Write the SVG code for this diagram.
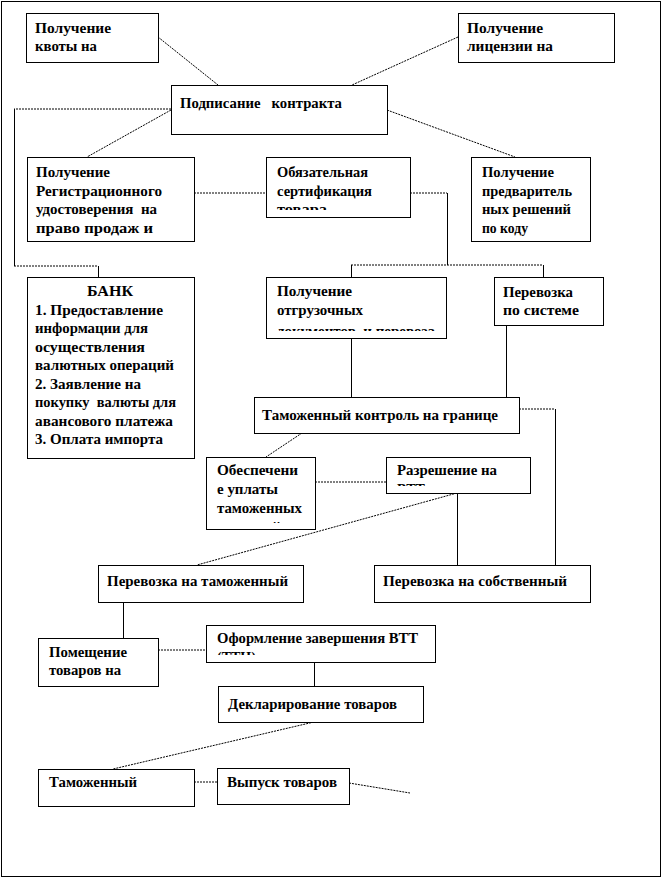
<svg xmlns="http://www.w3.org/2000/svg" width="663" height="879" viewBox="0 0 663 879">
<style>
  .box { fill: #fff; stroke: #000; stroke-width: 1; }
  text { font-family: "Liberation Serif", "Times New Roman", serif; font-weight: bold; font-size: 14px; fill: #000; }
  .c { fill: none; stroke: #000; stroke-width: 1; }
  .d { fill: none; stroke: #000; stroke-width: 1; stroke-dasharray: 2 1; }
</style>
<defs>
  <clipPath id="clipCert"><rect x="266" y="157" width="144" height="53"/></clipPath>
  <clipPath id="clipOtgr"><rect x="266" y="277" width="180" height="54"/></clipPath>
  <clipPath id="clipObesp"><rect x="206" y="457" width="109" height="66"/></clipPath>
  <clipPath id="clipRazr"><rect x="386" y="457" width="144" height="29"/></clipPath>
  <clipPath id="clipOform"><rect x="206" y="625" width="229" height="30"/></clipPath>
</defs>
<rect x="0" y="0" width="663" height="879" fill="#fff"/>
<rect x="1.5" y="1.5" width="659" height="875" fill="none" stroke="#000" stroke-width="1"/>

<g id="connectors">
  <line class="d" x1="158" y1="37" x2="218" y2="85"/>
  <line class="d" x1="458" y1="37" x2="352" y2="85"/>
  <line class="d" x1="387" y1="110" x2="515" y2="157"/>
  <line class="d" x1="171" y1="110" x2="87" y2="157"/>
  <line class="d" x1="171" y1="109" x2="14" y2="109"/>
  <line class="c" x1="14.5" y1="109" x2="14.5" y2="266"/>
  <line class="d" x1="14" y1="266" x2="98" y2="266"/>
  <line class="c" x1="98.5" y1="266" x2="98.5" y2="277"/>
  <line class="d" x1="194" y1="193" x2="266" y2="193"/>
  <line class="d" x1="410" y1="193" x2="447" y2="193"/>
  <line class="c" x1="447.5" y1="193" x2="447.5" y2="265"/>
  <line class="d" x1="351" y1="265" x2="543" y2="265"/>
  <line class="c" x1="351.5" y1="265" x2="351.5" y2="277"/>
  <line class="c" x1="543.5" y1="265" x2="543.5" y2="277"/>
  <line class="c" x1="351.5" y1="338" x2="351.5" y2="397"/>
  <line class="c" x1="506.5" y1="325" x2="506.5" y2="397"/>
  <line class="d" x1="519" y1="409" x2="555" y2="409"/>
  <line class="c" x1="555.5" y1="409" x2="555.5" y2="565"/>
  <line class="d" x1="302" y1="433" x2="266" y2="457"/>
  <line class="d" x1="315" y1="482" x2="386" y2="482"/>
  <line class="d" x1="457" y1="493" x2="197" y2="565"/>
  <line class="c" x1="457.5" y1="493" x2="457.5" y2="565"/>
  <line class="c" x1="123.5" y1="602" x2="123.5" y2="638"/>
  <line class="d" x1="158" y1="650" x2="206" y2="650"/>
  <line class="c" x1="314.5" y1="662" x2="314.5" y2="686"/>
  <line class="d" x1="314" y1="722" x2="113" y2="769"/>
  <line class="d" x1="194" y1="782" x2="217" y2="782"/>
  <line class="d" x1="349" y1="783" x2="410" y2="793"/>
</g>

<g id="kvota">
  <rect class="box" x="26.5" y="13.5" width="132" height="49"/>
  <text x="35" y="33" textLength="76" lengthAdjust="spacingAndGlyphs">Получение</text>
  <text x="35" y="51" textLength="62" lengthAdjust="spacingAndGlyphs">квоты на</text>
</g>
<g id="licenzia">
  <rect class="box" x="458.5" y="13.5" width="156" height="49"/>
  <text x="467" y="33" textLength="76" lengthAdjust="spacingAndGlyphs">Получение</text>
  <text x="467" y="51" textLength="86" lengthAdjust="spacingAndGlyphs">лицензии на</text>
</g>
<g id="kontrakt">
  <rect class="box" x="171.5" y="85.5" width="216" height="49"/>
  <text x="180" y="108" textLength="162" lengthAdjust="spacingAndGlyphs" xml:space="preserve">Подписание   контракта</text>
</g>
<g id="registr">
  <rect class="box" x="27.5" y="157.5" width="167" height="84"/>
  <text x="36" y="177" textLength="74" lengthAdjust="spacingAndGlyphs">Получение</text>
  <text x="36" y="195.5" textLength="126" lengthAdjust="spacingAndGlyphs">Регистрационного</text>
  <text x="36" y="214" textLength="121" lengthAdjust="spacingAndGlyphs" xml:space="preserve">удостоверения  на</text>
  <text x="36" y="232.5" textLength="117" lengthAdjust="spacingAndGlyphs">право продаж и</text>
</g>
<g id="sertif">
  <rect class="box" x="266.5" y="157.5" width="144" height="60"/>
  <g clip-path="url(#clipCert)">
    <text x="277" y="177" textLength="91" lengthAdjust="spacingAndGlyphs">Обязательная</text>
    <text x="277" y="195.5" textLength="95" lengthAdjust="spacingAndGlyphs">сертификация</text>
    <text x="277" y="214" textLength="50" lengthAdjust="spacingAndGlyphs">товара</text>
  </g>
</g>
<g id="predvar">
  <rect class="box" x="471.5" y="157.5" width="119" height="84"/>
  <text x="482" y="177" textLength="72" lengthAdjust="spacingAndGlyphs">Получение</text>
  <text x="482" y="195.5" textLength="90" lengthAdjust="spacingAndGlyphs">предваритель</text>
  <text x="482" y="214" textLength="89" lengthAdjust="spacingAndGlyphs">ных решений</text>
  <text x="482" y="232.5" textLength="46" lengthAdjust="spacingAndGlyphs">по коду</text>
</g>
<g id="bank">
  <rect class="box" x="27.5" y="277.5" width="167" height="181"/>
  <text x="87" y="296" textLength="46" lengthAdjust="spacingAndGlyphs">БАНК</text>
  <text x="35" y="314.5" textLength="128" lengthAdjust="spacingAndGlyphs">1. Предоставление</text>
  <text x="35" y="333" textLength="113" lengthAdjust="spacingAndGlyphs">информации для</text>
  <text x="35" y="351.5" textLength="110" lengthAdjust="spacingAndGlyphs">осуществления</text>
  <text x="35" y="370" textLength="139" lengthAdjust="spacingAndGlyphs">валютных операций</text>
  <text x="35" y="388.5" textLength="106" lengthAdjust="spacingAndGlyphs">2. Заявление на</text>
  <text x="35" y="407" textLength="141" lengthAdjust="spacingAndGlyphs" xml:space="preserve">покупку  валюты для</text>
  <text x="35" y="425.5" textLength="138" lengthAdjust="spacingAndGlyphs">авансового платежа</text>
  <text x="35" y="444" textLength="128" lengthAdjust="spacingAndGlyphs">3. Оплата импорта</text>
</g>
<g id="otgruz">
  <rect class="box" x="266.5" y="277.5" width="180" height="61"/>
  <g clip-path="url(#clipOtgr)">
    <text x="277" y="296" textLength="75" lengthAdjust="spacingAndGlyphs">Получение</text>
    <text x="277" y="314.5" textLength="86" lengthAdjust="spacingAndGlyphs">отгрузочных</text>
    <text x="277" y="336" textLength="158" lengthAdjust="spacingAndGlyphs" xml:space="preserve">документов  и перевоза</text>
  </g>
</g>
<g id="perevozka_sist">
  <rect class="box" x="494.5" y="277.5" width="109" height="48"/>
  <text x="503" y="297" textLength="70" lengthAdjust="spacingAndGlyphs">Перевозка</text>
  <text x="503" y="315" textLength="76" lengthAdjust="spacingAndGlyphs">по системе</text>
</g>
<g id="granica">
  <rect class="box" x="254.5" y="397.5" width="265" height="36"/>
  <text x="262" y="420" textLength="236" lengthAdjust="spacingAndGlyphs">Таможенный контроль на границе</text>
</g>
<g id="obespech">
  <rect class="box" x="206.5" y="457.5" width="109" height="72"/>
  <g clip-path="url(#clipObesp)">
    <text x="217" y="475" textLength="81" lengthAdjust="spacingAndGlyphs">Обеспечени</text>
    <text x="217" y="494" textLength="61" lengthAdjust="spacingAndGlyphs">е уплаты</text>
    <text x="217" y="513" textLength="85" lengthAdjust="spacingAndGlyphs">таможенных</text>
    <text x="217" y="532" textLength="64" lengthAdjust="spacingAndGlyphs">платежей</text>
  </g>
</g>
<g id="razresh">
  <rect class="box" x="386.5" y="457.5" width="144" height="36"/>
  <g clip-path="url(#clipRazr)">
    <text x="397" y="475" textLength="100" lengthAdjust="spacingAndGlyphs">Разрешение на</text>
    <text x="397" y="493.5">ВТТ</text>
  </g>
</g>
<g id="per_tam">
  <rect class="box" x="98.5" y="565.5" width="205" height="37"/>
  <text x="107" y="586" textLength="181" lengthAdjust="spacingAndGlyphs">Перевозка на таможенный</text>
</g>
<g id="per_sob">
  <rect class="box" x="374.5" y="565.5" width="216" height="37"/>
  <text x="383" y="586" textLength="184" lengthAdjust="spacingAndGlyphs">Перевозка на собственный</text>
</g>
<g id="pomesh">
  <rect class="box" x="38.5" y="638.5" width="120" height="48"/>
  <text x="49" y="657" textLength="78" lengthAdjust="spacingAndGlyphs">Помещение</text>
  <text x="49" y="675" textLength="72" lengthAdjust="spacingAndGlyphs">товаров на</text>
</g>
<g id="oform">
  <rect class="box" x="206.5" y="625.5" width="229" height="37"/>
  <g clip-path="url(#clipOform)">
    <text x="217" y="643" textLength="201" lengthAdjust="spacingAndGlyphs">Оформление завершения ВТТ</text>
    <text x="217" y="661.5">(ТТН)</text>
  </g>
</g>
<g id="deklar">
  <rect class="box" x="218.5" y="686.5" width="205" height="36"/>
  <text x="228" y="709" textLength="169" lengthAdjust="spacingAndGlyphs">Декларирование товаров</text>
</g>
<g id="tamozh">
  <rect class="box" x="38.5" y="769.5" width="156" height="37"/>
  <text x="49" y="787" textLength="88" lengthAdjust="spacingAndGlyphs">Таможенный</text>
</g>
<g id="vypusk">
  <rect class="box" x="217.5" y="768.5" width="132" height="36"/>
  <text x="227" y="787" textLength="110" lengthAdjust="spacingAndGlyphs">Выпуск товаров</text>
</g>
</svg>
